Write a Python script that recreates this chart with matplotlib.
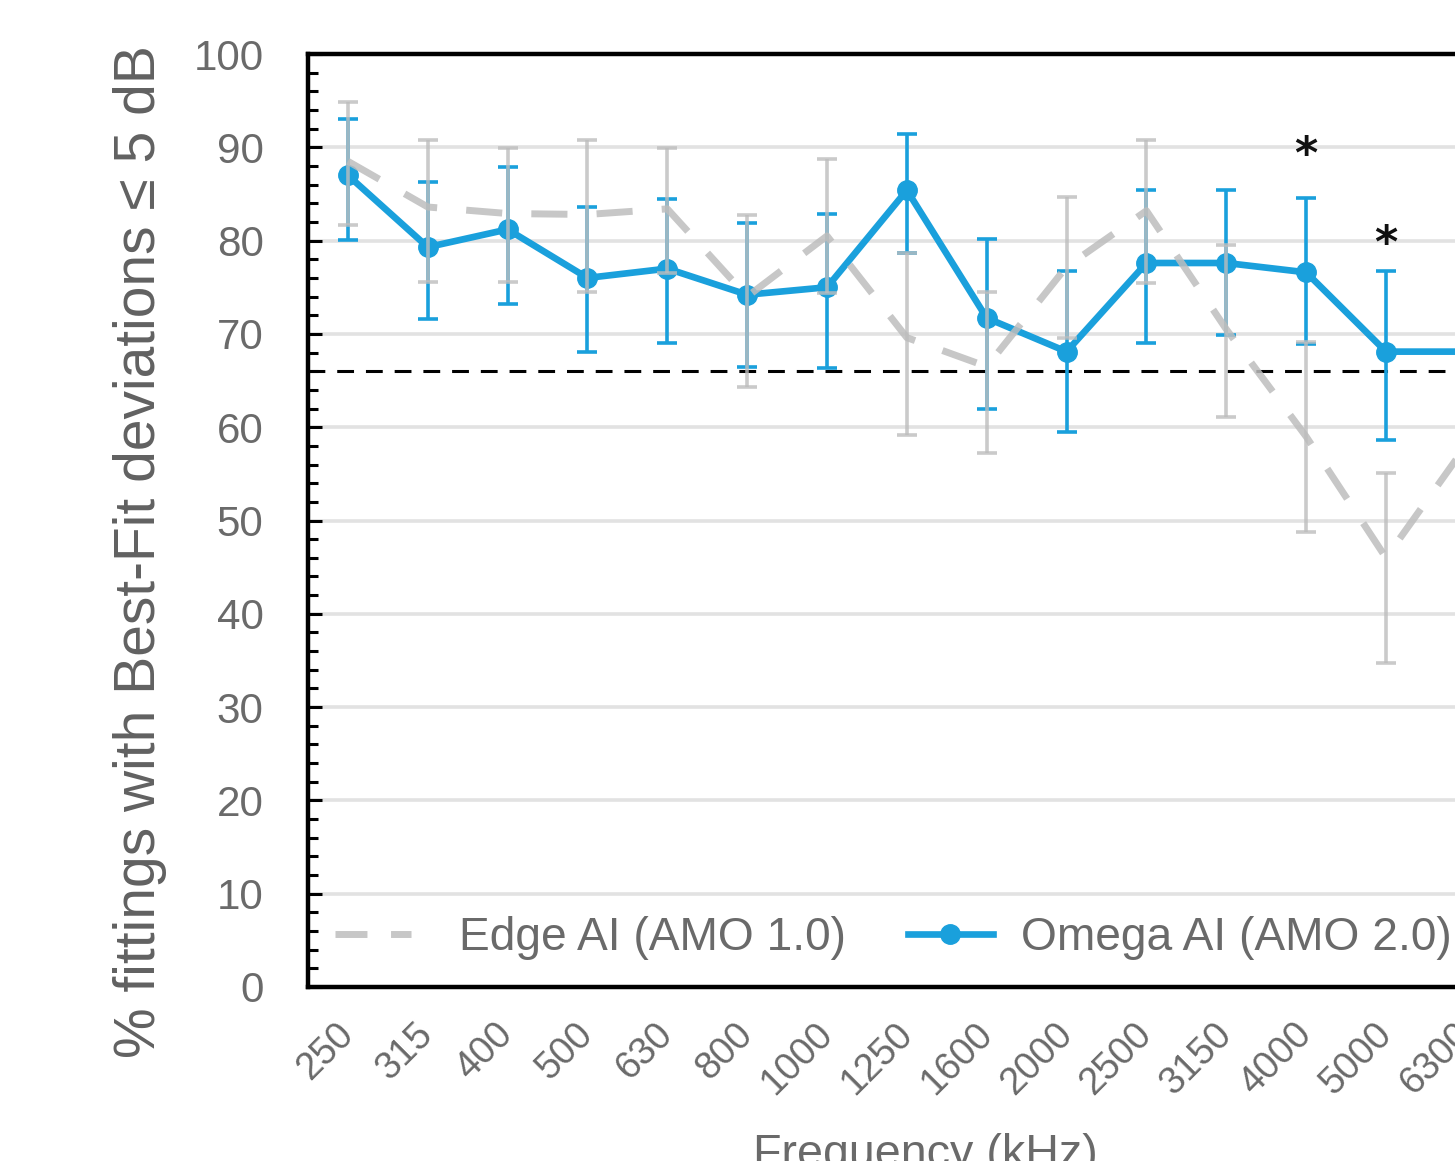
import matplotlib
matplotlib.use("Agg")
import matplotlib.pyplot as plt
from matplotlib import font_manager as fm
from matplotlib.lines import Line2D
import numpy as np

# ---------------- data ----------------
categories = ['250', '315', '400', '500', '630', '800', '1000', '1250',
              '1600', '2000', '2500', '3150', '4000', '5000', '6300']

omega_mean = [87.0, 79.3, 81.2, 76.0, 77.0, 74.2, 75.0, 85.4, 71.7, 68.1, 77.6, 77.6, 76.6, 68.1, 68.1]
omega_hi   = [93.0, 86.3, 87.9, 83.6, 84.5, 81.9, 82.9, 91.4, 80.2, 76.7, 85.4, 85.4, 84.6, 76.7, 77.5]
omega_lo   = [80.1, 71.6, 73.2, 68.1, 69.0, 66.4, 66.3, 78.7, 62.0, 59.5, 69.0, 69.9, 68.9, 58.6, 58.7]

edge_mean = [88.5, 83.6, 82.9, 82.8, 83.4, 74.0, 80.5, 69.6, 66.5, 77.2, 83.2, 70.5, 59.0, 46.0, 58.0]
edge_hi   = [94.9, 90.8, 89.9, 90.8, 89.9, 82.7, 88.7, 78.7, 74.5, 84.7, 90.8, 79.5, 69.1, 55.1, 67.0]
edge_lo   = [81.7, 75.6, 75.6, 74.5, 76.5, 64.3, 74.4, 59.2, 57.2, 69.6, 75.5, 61.1, 48.8, 34.7, 49.0]

threshold = 66.0
sig_idx = [12, 13]
sig_y = [89.1, 79.6]

series_names = ['Edge AI (AMO 1.0)', 'Omega AI (AMO 2.0)']
x_title = 'Frequency (kHz)'
y_title = '% fittings with Best-Fit deviations ≤ 5 dB'

# ---------------- fonts ----------------
def has_font(name):
    try:
        fm.findfont(fm.FontProperties(family=name), fallback_to_default=False)
        return True
    except Exception:
        return False

if has_font('Liberation Sans Narrow'):
    NARROW, nscale = 'Liberation Sans Narrow', 1.0
else:
    NARROW, nscale = 'Liberation Sans', 0.82
WIDE = 'Liberation Sans'

BLUE = '#1aa0dc'
GRAY = '#bdbdbd'
TXT = '#6a6a6a'

W, H = 1455, 1161
fig = plt.figure(figsize=(W / 100, H / 100), dpi=100)

x = np.arange(len(categories))
ax_left = 308 / W
ax_bottom = 1 - 987 / H
ax_h = (987 - 54) / H
ax_w = len(categories) * 79.85 / W
ax = fig.add_axes([ax_left, ax_bottom, ax_w, ax_h])
ax.set_xlim(-0.5, len(categories) - 0.5)
ax.set_ylim(0, 100)

# grid
for g in range(10, 100, 10):
    ax.axhline(g, color='#e2e2e2', lw=2.6, zorder=0.5)

# threshold line
ax.axhline(threshold, color='black', lw=2.2, dashes=(5.5, 3.9), zorder=1)

# Omega (blue)
om = np.array(omega_mean)
ax.errorbar(x, om, yerr=[om - np.array(omega_lo), np.array(omega_hi) - om],
            fmt='none', ecolor=BLUE, elinewidth=2.6, capsize=7.5, capthick=2.6, zorder=2)
ax.plot(x, om, color=BLUE, lw=4.8, marker='o', ms=14, zorder=2.2)

# Edge (gray dashed)
em = np.array(edge_mean)
ax.errorbar(x, em, yerr=[em - np.array(edge_lo), np.array(edge_hi) - em],
            fmt='none', ecolor=GRAY, elinewidth=2.6, capsize=7.5, capthick=2.6,
            alpha=0.8, zorder=3)
ax.plot(x, em, color=GRAY, lw=5, dashes=(5.2, 4.2), alpha=0.85, zorder=3.1)

# significance asterisks
for i, yv in zip(sig_idx, sig_y):
    ax.text(x[i], yv, '*', ha='center', va='center', fontsize=32,
            fontweight='bold', color='#111111', family='DejaVu Sans', zorder=5)

# axes styling
for s in ax.spines.values():
    s.set_linewidth(3.2)
    s.set_color('black')
    s.set_zorder(6)

ax.set_yticks(np.arange(0, 101, 10))
ax.set_yticks(np.arange(0, 101, 2), minor=True)
ax.tick_params(axis='y', which='major', direction='in', length=10, width=2.2,
               pad=32, labelsize=37 * nscale, labelcolor=TXT, left=True, right=False)
ax.tick_params(axis='y', which='minor', direction='in', length=7, width=2.2,
               left=True, right=False)
for lab in ax.get_yticklabels():
    lab.set_family(NARROW)

ax.set_xticks(x)
ax.set_xticklabels(categories, rotation=45, ha='right', va='center',
                   rotation_mode='anchor', family=NARROW, fontsize=33.5 * nscale,
                   color=TXT)
ax.tick_params(axis='x', length=0, pad=30)

# legends
edge_handle = Line2D([], [], color=GRAY, lw=5, dashes=(4.6, 3.4), alpha=0.85)
omega_handle = Line2D([], [], color=BLUE, lw=4.8, marker='o', ms=14)
leg1 = ax.legend([edge_handle], [series_names[0]], loc='center left',
                 bbox_to_anchor=(0.0225, 0.0525), frameon=False, borderpad=0,
                 borderaxespad=0, handlelength=1.65, handletextpad=1.05,
                 prop={'family': NARROW, 'size': 40.5 * nscale})
for t in leg1.get_texts():
    t.set_color(TXT)
ax.add_artist(leg1)
leg2 = ax.legend([omega_handle], [series_names[1]], loc='center left',
                 bbox_to_anchor=(0.5008, 0.0525), frameon=False, borderpad=0,
                 borderaxespad=0, handlelength=1.85, handletextpad=0.6,
                 prop={'family': NARROW, 'size': 40.5 * nscale})
for t in leg2.get_texts():
    t.set_color(TXT)

# axis titles
fig.text(140 / W, 1 - 552 / H, y_title, rotation=90, ha='center', va='center',
         family=WIDE, fontsize=41, color='#616161')
fig.text(925 / W, 1 - 1167 / H, x_title, ha='center', va='baseline',
         family=NARROW, fontsize=41 * nscale, color=TXT)

fig.savefig('out.png', dpi=100)
